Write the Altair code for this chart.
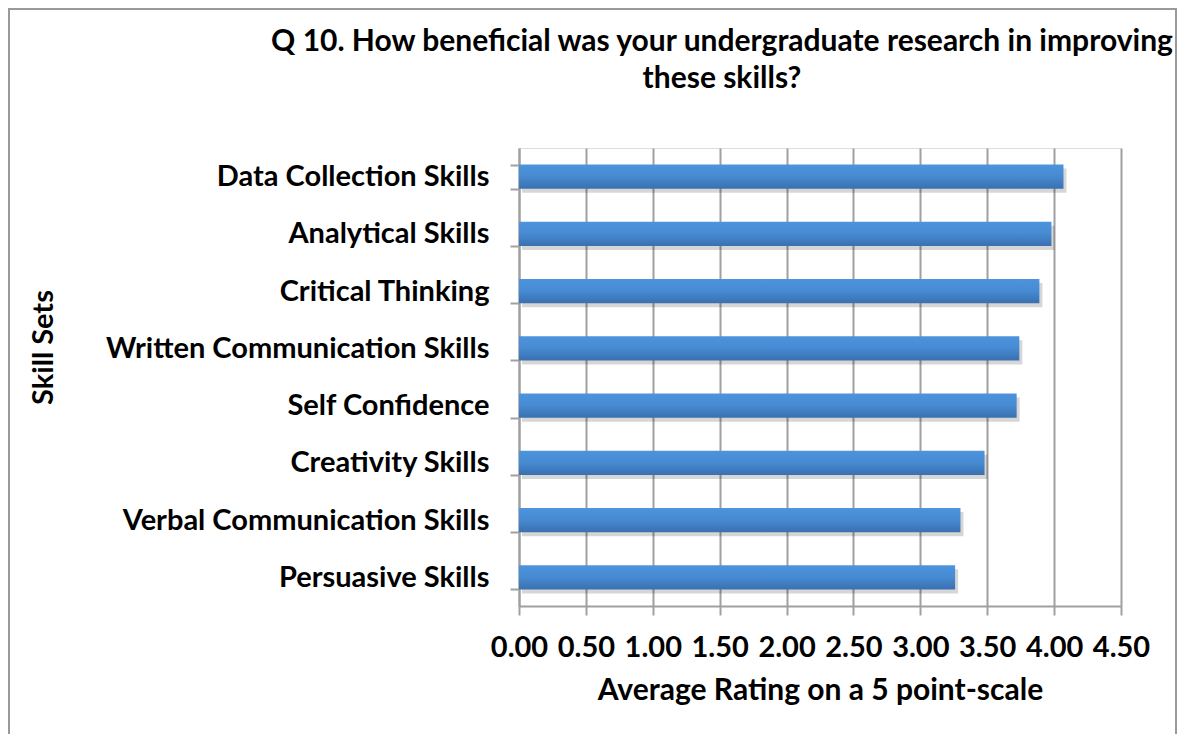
import altair as alt
import pandas as pd

skills = [
    "Data Collection Skills",
    "Analytical Skills",
    "Critical Thinking",
    "Written Communication Skills",
    "Self Confidence",
    "Creativity Skills",
    "Verbal Communication Skills",
    "Persuasive Skills",
]
ratings = [4.07, 3.98, 3.89, 3.74, 3.72, 3.48, 3.30, 3.26]
tick_values = [0.0, 0.5, 1.0, 1.5, 2.0, 2.5, 3.0, 3.5, 4.0, 4.5]

df = pd.DataFrame({"skill": skills, "rating": ratings})

FONT = "Lato"
W, H = 602, 458

x_enc = alt.X(
    "rating:Q",
    scale=alt.Scale(domain=[0, 4.5], nice=False, zero=True),
    axis=alt.Axis(
        values=tick_values,
        format=".2f",
        labelOverlap=False,
        labelFlush=False,
        title="Average Rating on a 5 point-scale",
        grid=True,
        gridColor="#a0a0a0",
        gridWidth=2,
        domainColor="#a0a0a0",
        domainWidth=2,
        tickColor="#a0a0a0",
        tickWidth=2,
        tickSize=9,
        labelPadding=18,
        labelFont=FONT,
        labelFontSize=29,
        labelFontWeight="bold",
        labelColor="#000000",
        titleFont=FONT,
        titleFontSize=30,
        titleFontWeight="bold",
        titleColor="#000000",
        titlePadding=13,
    ),
)

y_enc = alt.Y(
    "skill:N",
    sort=skills,
    scale=alt.Scale(paddingInner=0.58, paddingOuter=0.29),
    axis=alt.Axis(
        title="Skill Sets",
        tickBand="extent",
        domainColor="#a0a0a0",
        domainWidth=2,
        tickColor="#a0a0a0",
        tickWidth=2,
        tickSize=9,
        labelPadding=21,
        labelFont=FONT,
        labelFontSize=29,
        labelFontWeight="bold",
        labelColor="#000000",
        labelLimit=600,
        titleFont=FONT,
        titleFontSize=29,
        titleFontWeight="bold",
        titleColor="#000000",
        titleX=-467,
        titleY=199,
        titleBaseline="alphabetic",
    ),
)

shadow = alt.Chart(df).mark_bar(
    color="#000000", opacity=0.16, xOffset=3, yOffset=4
).encode(x=x_enc, y=y_enc)

bars = alt.Chart(df).mark_bar(
    color=alt.Gradient(
        gradient="linear",
        x1=0, y1=0, x2=0, y2=1,
        stops=[
            alt.GradientStop(offset=0, color="#4d94dc"),
            alt.GradientStop(offset=0.5, color="#468ad2"),
            alt.GradientStop(offset=1, color="#3a70b0"),
        ],
    )
).encode(x=x_enc, y=y_enc)

frame = alt.Chart(alt.Data(values=[{"a": 1}])).mark_rect(
    fill="transparent", stroke="#999999", strokeWidth=2
).encode(
    x=alt.value(-510), x2=alt.value(657),
    y=alt.value(-139), y2=alt.value(640),
)

chart = alt.layer(frame, shadow, bars).properties(
    width=W,
    height=H,
    title=alt.TitleParams(
        text=["Q 10. How beneficial was your undergraduate research in improving", "these skills?"],
        font=FONT,
        fontSize=30,
        fontWeight="bold",
        color="#000000",
        anchor="middle",
        dx=-98,
        offset=-110,
        lineHeight=37,
        baseline="alphabetic",
    ),
    autosize=alt.AutoSizeParams(type="none"),
    padding={"left": 511, "top": 140, "right": 57, "bottom": 128},
).configure_view(stroke=None).configure(background="#ffffff")

chart.save("out.html", embed_options={"renderer": "svg", "actions": False})
